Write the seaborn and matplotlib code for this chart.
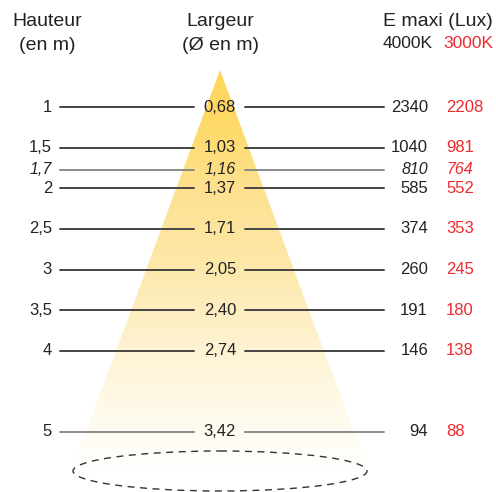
import numpy as np
import pandas as pd
import matplotlib
matplotlib.use("Agg")
import matplotlib.pyplot as plt
import seaborn as sns
from matplotlib.patches import Polygon, Ellipse
from matplotlib.colors import LinearSegmentedColormap

# ---- data ----
hauteur = [1, 1.5, 1.7, 2, 2.5, 3, 3.5, 4, 5]
hauteur_lbl = ["1", "1,5", "1,7", "2", "2,5", "3", "3,5", "4", "5"]
largeur_lbl = ["0,68", "1,03", "1,16", "1,37", "1,71", "2,05", "2,40", "2,74", "3,42"]
lux_4000 = [2340, 1040, 810, 585, 374, 260, 191, 146, 94]
lux_3000 = [2208, 981, 764, 552, 353, 245, 180, 138, 88]
italic_rows = [1.7]

sns.set_theme(style="white")
plt.rcParams["font.family"] = ["Liberation Sans", "DejaVu Sans"]

W, H = 496, 492
fig = plt.figure(figsize=(W / 100, H / 100), dpi=100)
ax = fig.add_axes([0, 0, 1, 1])
# y axis in metres: 1 m at 107 px, 81.25 px per metre
ppm = 81.25
def h_of(px):
    return 1 + (px - 107) / ppm

# the italic row is drawn a little lower in the original diagram for legibility
nudge = 0.075
ypos = [h + (nudge if h in italic_rows else 0) for h in hauteur]

# ---- cone with gradient ----
cx = 220
apex_h = h_of(70)
base_h = h_of(470)
cone = Polygon([(cx, apex_h), (cx - 148, base_h), (cx + 148, base_h)],
               closed=True, facecolor="none", edgecolor="none")
ax.add_patch(cone)
cmap = LinearSegmentedColormap.from_list(
    "cone", [(0.0, "#FFD55A"), (0.12, "#FFD966"), (0.3, "#FEE190"),
             (0.5, "#FDE9AC"), (0.7, "#FEF3D3"), (0.9, "#FFFBF0"), (1.0, "#FFFFFF")])
grad = np.linspace(0, 1, 256).reshape(-1, 1)
im = ax.imshow(grad, cmap=cmap, aspect="auto",
               extent=(cx - 150, cx + 150, base_h, apex_h), zorder=1,
               interpolation="bilinear")
im.set_clip_path(cone)

# dashed ellipse
ell = Ellipse((cx, h_of(471)), width=294, height=40 / ppm, fill=False,
              edgecolor="#333333", linestyle=(0, (5, 4)), linewidth=1.0, zorder=3)
ax.add_patch(ell)

# ---- horizontal leader lines (seaborn) ----
rows = []
for i, y in enumerate(ypos):
    for seg, (x0, x1) in enumerate([(60, 194), (245, 384)]):
        rows.append({"x": x0, "y": y, "seg": f"{i}-{seg}", "row": i})
        rows.append({"x": x1, "y": y, "seg": f"{i}-{seg}", "row": i})
df = pd.DataFrame(rows)
for i, h in enumerate(hauteur):
    sub = df[df["row"] == i]
    light = (h in italic_rows) or h == 5
    sns.lineplot(data=sub, x="x", y="y", units="seg", estimator=None, sort=False,
                 color="#8a8a8a" if light else "#444444", linewidth=1.4,
                 ax=ax, zorder=2, legend=False)
ax.set_xlim(0, W)
ax.set_ylim(h_of(H), h_of(0))
ax.axis("off")

# ---- numbers ----
txt = "#222222"
red = "#EE2A2E"
for i, h in enumerate(hauteur):
    y = ypos[i]
    st = "italic" if h in italic_rows else "normal"
    fs = 11.5 if h in italic_rows else 12
    ax.text(52, y, hauteur_lbl[i], ha="right", va="center", fontsize=fs,
            style=st, color=txt, zorder=4)
    ax.text(cx, y, largeur_lbl[i], ha="center", va="center", fontsize=fs,
            style=st, color=txt, zorder=4)
    ax.text(428, y, str(lux_4000[i]), ha="right", va="center", fontsize=fs,
            style=st, color=txt, zorder=4)
    ax.text(446, y, str(lux_3000[i]), ha="left", va="center", fontsize=fs,
            style=st, color=red, zorder=4)

# ---- headers ----
ax.text(47, h_of(21), "Hauteur", ha="center", va="center", fontsize=14, color=txt)
ax.text(47, h_of(46), "(en m)", ha="center", va="center", fontsize=14, color=txt)
ax.text(cx, h_of(21), "Largeur", ha="center", va="center", fontsize=14, color=txt)
ax.text(cx, h_of(46), "(Ø en m)", ha="center", va="center", fontsize=14, color=txt)
ax.text(438, h_of(21), "E maxi (Lux)", ha="center", va="center", fontsize=14, color=txt)
ax.text(433, h_of(44), "4000K", ha="right", va="center", fontsize=12.5, color=txt)
ax.text(443, h_of(44), "3000K", ha="left", va="center", fontsize=12.5, color=red)

fig.savefig("out.png", dpi=100)
